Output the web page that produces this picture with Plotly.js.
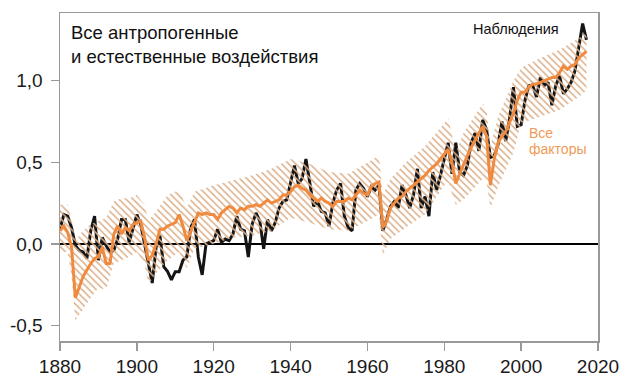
<!DOCTYPE html>
<html>
<head>
<meta charset="utf-8">
<script src="https://cdn.plot.ly/plotly-3.0.1.min.js"></script>
<style>html,body{margin:0;padding:0;background:#fff;}#chart{width:620px;height:390px;}</style>
</head>
<body>
<div id="chart"></div>
<script>
// Annual years
const startYear = 1880;
// Observed temperature anomaly (black line), 1880-2017
const observed = [
  0.09, 0.18, 0.17, 0.10, -0.01, -0.04, -0.05, -0.09, 0.08, 0.17,
  -0.10, 0.04, -0.01, -0.05, -0.04, 0.03, 0.15, 0.15, 0.01, 0.10,
  0.18, 0.12, 0.01, -0.12, -0.24, -0.02, 0.05, -0.14, -0.17, -0.22,
  -0.17, -0.17, -0.10, -0.08, 0.10, 0.15, -0.08, -0.19, 0.00, 0.01,
  0.02, 0.09, 0.01, 0.03, 0.02, 0.06, 0.17, 0.09, 0.08, -0.08,
  0.12, 0.19, 0.14, -0.03, 0.15, 0.08, 0.13, 0.22, 0.26, 0.27,
  0.38, 0.48, 0.37, 0.40, 0.52, 0.36, 0.23, 0.26, 0.20, 0.19,
  0.11, 0.25, 0.33, 0.37, 0.17, 0.10, 0.08, 0.33, 0.37, 0.34,
  0.29, 0.35, 0.33, 0.36, 0.08, 0.15, 0.23, 0.26, 0.22, 0.36,
  0.30, 0.22, 0.30, 0.46, 0.22, 0.29, 0.17, 0.44, 0.33, 0.42,
  0.53, 0.62, 0.43, 0.62, 0.44, 0.42, 0.48, 0.62, 0.68, 0.57,
  0.76, 0.70, 0.53, 0.54, 0.61, 0.75, 0.63, 0.77, 0.96, 0.72,
  0.73, 0.88, 0.97, 0.97, 0.90, 1.02, 0.97, 0.99, 0.85, 0.97,
  1.03, 0.92, 0.95, 0.99, 1.06, 1.20, 1.35, 1.25
];
// Model mean, all forcings (orange line), 1880-2017
const allFactors = [
  0.08, 0.11, 0.07, -0.02, -0.33, -0.27, -0.20, -0.16, -0.12, -0.09,
  -0.08, -0.02, -0.12, -0.12, 0.06, 0.11, 0.06, 0.10, 0.08, 0.12,
  0.13, 0.14, 0.04, -0.10, -0.07, 0.00, 0.09, 0.09, 0.11, 0.12,
  0.13, 0.18, 0.11, 0.02, 0.08, 0.14, 0.19, 0.18, 0.19, 0.18,
  0.18, 0.15, 0.19, 0.21, 0.23, 0.22, 0.19, 0.22, 0.21, 0.23,
  0.23, 0.24, 0.23, 0.25, 0.27, 0.25, 0.26, 0.27, 0.30, 0.30,
  0.32, 0.35, 0.36, 0.34, 0.33, 0.30, 0.28, 0.26, 0.28, 0.26,
  0.25, 0.23, 0.26, 0.26, 0.26, 0.28, 0.27, 0.30, 0.33, 0.31,
  0.30, 0.35, 0.37, 0.38, 0.10, 0.14, 0.22, 0.25, 0.28, 0.29,
  0.32, 0.34, 0.36, 0.38, 0.40, 0.42, 0.45, 0.47, 0.49, 0.52,
  0.55, 0.58, 0.50, 0.37, 0.43, 0.49, 0.54, 0.59, 0.64, 0.68,
  0.72, 0.66, 0.36, 0.52, 0.62, 0.66, 0.69, 0.74, 0.80, 0.88,
  0.93, 0.93, 0.96, 0.98, 0.98, 0.99, 1.00, 1.01, 1.02, 1.02,
  1.05, 1.09, 1.07, 1.09, 1.10, 1.14, 1.16, 1.18
];
// Model range (hatched band)
const bandYears = [1880,1882,1883,1884,1886,1888,1890,1892,1894,1896,1898,1900,1902,1903,1905,1908,1911,1913,1915,1920,1925,1930,1935,1940,1945,1950,1955,1960,1963,1964,1966,1970,1975,1980,1981,1983,1985,1990,1991,1992,1994,1998,2000,2005,2010,2015,2017];
const bandUpper = [0.24,0.24,0.15,0.02,0.08,0.12,0.14,0.16,0.26,0.28,0.28,0.30,0.24,0.14,0.20,0.30,0.33,0.22,0.32,0.36,0.39,0.42,0.46,0.52,0.49,0.44,0.43,0.50,0.54,0.30,0.40,0.50,0.60,0.74,0.77,0.56,0.68,0.86,0.82,0.60,0.78,1.00,1.08,1.14,1.19,1.26,1.30];
const bandLower = [-0.05,-0.05,-0.20,-0.47,-0.40,-0.33,-0.27,-0.28,-0.12,-0.10,-0.08,-0.05,-0.12,-0.25,-0.18,-0.10,-0.05,-0.15,-0.03,0.00,0.04,0.05,0.08,0.16,0.13,0.09,0.08,0.14,0.18,-0.07,0.03,0.10,0.18,0.36,0.38,0.24,0.27,0.40,0.38,0.22,0.35,0.56,0.74,0.78,0.82,0.90,0.94];
// Axis ticks
const yTickVals = [-0.5, 0, 0.5, 1.0];
const yTickText = ['-0,5', '0,0', '0,5', '1,0'];
const xTickVals = [1880, 1900, 1920, 1940, 1960, 1980, 2000, 2020];

const years = observed.map((_, i) => startYear + i);
const polyX = bandYears.concat(bandYears.slice().reverse());
const polyY = bandUpper.concat(bandLower.slice().reverse());

const FONT = 'Liberation Sans, Arial, Helvetica, sans-serif';

const traces = [
  {
    x: years, y: observed, type: 'scatter', mode: 'lines',
    line: {color: '#141414', width: 3}, hoverinfo: 'skip', showlegend: false
  },
  {
    x: polyX, y: polyY, type: 'scatter', mode: 'lines', fill: 'toself',
    line: {width: 0, color: 'rgba(0,0,0,0)'},
    fillcolor: 'rgba(0,0,0,0)',
    fillpattern: {shape: '\\', fgcolor: '#dcb08a', bgcolor: 'rgba(0,0,0,0)', size: 5, solidity: 0.3},
    hoverinfo: 'skip', showlegend: false
  },
  {
    x: years, y: allFactors, type: 'scatter', mode: 'lines',
    line: {color: '#f08a3e', width: 3}, hoverinfo: 'skip', showlegend: false
  }
];

const layout = {
  width: 620, height: 390,
  margin: {l: 60, r: 22, t: 13, b: 49},
  paper_bgcolor: '#ffffff', plot_bgcolor: '#ffffff',
  font: {family: FONT, color: '#1a1a1a'},
  showlegend: false,
  xaxis: {
    range: [1880, 2020], tickvals: xTickVals, ticks: 'outside', ticklen: 8,
    tickcolor: '#999', tickwidth: 1.5, showline: true, linecolor: '#999', linewidth: 1.5,
    mirror: true, showgrid: false, zeroline: false,
    tickfont: {family: FONT, size: 19, color: '#1a1a1a'}
  },
  yaxis: {
    range: [-0.595, 1.415], tickvals: yTickVals, ticktext: yTickText, ticks: 'outside', ticklen: 8,
    tickcolor: '#999', tickwidth: 1.5, showline: true, linecolor: '#999', linewidth: 1.5,
    mirror: true, showgrid: false, zeroline: true, zerolinecolor: '#000', zerolinewidth: 2.5,
    tickfont: {family: FONT, size: 19, color: '#1a1a1a'}, ticklabelstandoff: 4
  },
  annotations: [
    {text: 'Все антропогенные', x: 1882.3, y: 1.295, xref: 'x', yref: 'y', xanchor: 'left', yanchor: 'middle', showarrow: false, font: {family: FONT, size: 18.5, color: '#111'}},
    {text: 'и естественные воздействия', x: 1882.3, y: 1.148, xref: 'x', yref: 'y', xanchor: 'left', yanchor: 'middle', showarrow: false, font: {family: FONT, size: 18.5, color: '#111'}},
    {text: 'Наблюдения', x: 2010.4, y: 1.317, xref: 'x', yref: 'y', xanchor: 'right', yanchor: 'middle', showarrow: false, font: {family: FONT, size: 14.5, color: '#111'}},
    {text: 'Все', x: 2001.6, y: 0.68, xref: 'x', yref: 'y', xanchor: 'left', yanchor: 'middle', height: 15, showarrow: false, font: {family: FONT, size: 14, color: '#ef9b58'}},
    {text: 'факторы', x: 2001.6, y: 0.585, xref: 'x', yref: 'y', xanchor: 'left', yanchor: 'middle', height: 15, showarrow: false, font: {family: FONT, size: 14, color: '#ef9b58'}}
  ]
};

Plotly.newPlot('chart', traces, layout, {staticPlot: true, displayModeBar: false});
</script>
</body>
</html>
